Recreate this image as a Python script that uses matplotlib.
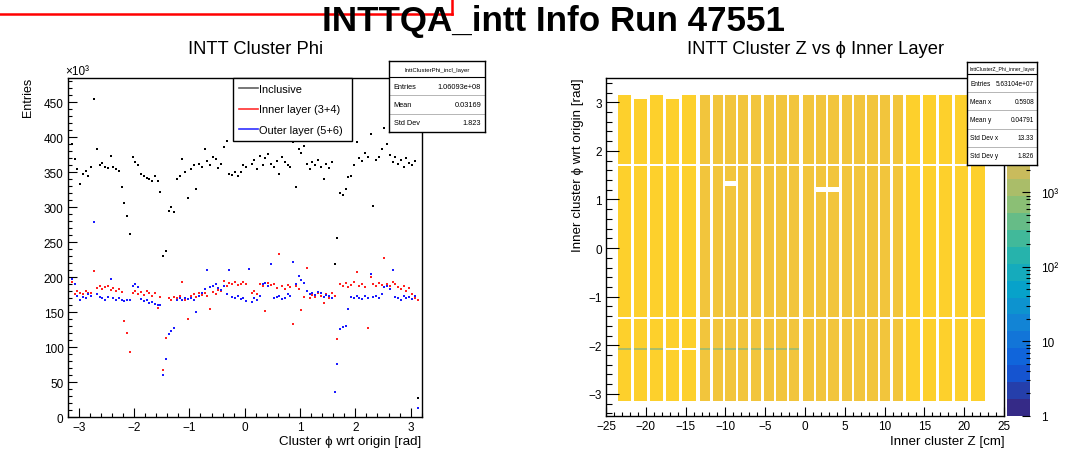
import matplotlib
matplotlib.use('Agg')
import matplotlib.pyplot as plt
import numpy as np
from matplotlib.colors import LinearSegmentedColormap, LogNorm
from matplotlib.lines import Line2D
from matplotlib.ticker import MultipleLocator, FixedLocator, NullFormatter

plt.rcParams['font.family'] = ['Liberation Sans', 'DejaVu Sans']

# ---- left panel: cluster phi, entries in units of 10^3 per bin ----
inclusive_k = [
    390, 369, 355, 333, 348, 352, 345, 358, 455, 383,
    360, 364, 358, 356, 374, 358, 355, 352, 329, 306,
    288, 262, 372, 365, 360, 348, 345, 342, 340, 338,
    345, 338, 322, 231, 237, 295, 300, 293, 340, 345,
    369, 350, 314, 355, 360, 326, 362, 358, 383, 366,
    360, 372, 369, 356, 362, 386, 395, 348, 346, 350,
    345, 350, 360, 358, 400, 362, 368, 355, 373, 360,
    370, 376, 362, 358, 366, 348, 372, 365, 360, 358,
    393, 329, 383, 378, 388, 362, 355, 365, 360, 368,
    358, 340, 362, 356, 365, 219, 257, 321, 318, 326,
    343, 345, 360, 393, 370, 366, 378, 372, 405, 302,
    368, 372, 383, 414, 390, 375, 365, 372, 362, 368,
    358, 370, 364, 360, 366, 27,
]
inner_k = [
    193, 176, 180, 178, 176, 181, 178, 177, 209, 185,
    187, 183, 186, 188, 182, 185, 181, 184, 179, 138,
    120, 94, 178, 181, 176, 179, 175, 180, 177, 174,
    178, 156, 172, 67, 114, 170, 168, 172, 170, 174,
    194, 168, 141, 174, 176, 172, 178, 175, 177, 173,
    155, 179, 176, 182, 180, 195, 188, 192, 190, 194,
    189, 191, 193, 190, 212, 178, 180, 176, 190, 188,
    152, 192, 189, 191, 185, 233, 187, 184, 189, 186,
    133, 188, 183, 154, 172, 213, 170, 175, 172, 177,
    174, 164, 176, 171, 178, 173, 112, 190, 187, 192,
    186, 189, 193, 208, 188, 191, 186, 127, 200, 190,
    187, 192, 189, 228, 191, 188, 193, 190, 186, 183,
    188, 180, 185, 176, 170, 167,
]
outer_k = [
    198, 190, 174, 167, 172, 170, 176, 174, 279, 176,
    172, 170, 168, 172, 197, 171, 168, 170, 167, 166,
    168, 167, 188, 190, 186, 169, 166, 167, 164, 165,
    162, 161, 160, 60, 84, 119, 124, 127, 168, 170,
    167, 171, 169, 170, 168, 151, 174, 178, 184, 211,
    186, 188, 190, 185, 182, 187, 176, 211, 172, 170,
    173, 169, 171, 166, 212, 165, 170, 168, 174, 190,
    192, 188, 219, 170, 172, 174, 169, 171, 176, 173,
    222, 190, 202, 196, 192, 180, 176, 178, 175, 179,
    177, 172, 175, 173, 171, 36, 76, 126, 129, 131,
    155, 172, 170, 174, 171, 169, 173, 170, 205, 172,
    174, 170, 176, 186, 188, 184, 210, 172, 170, 168,
    173, 170, 172, 169, 174, 13,
]
series_labels = ['Inclusive', 'Inner layer (3+4)', 'Outer layer (5+6)']

# ---- right panel: inner layer z vs phi ----
strip_z_lo = [-23.5, -21.5, -19.5, -17.5, -15.5, -13.2, -11.6, -10.0, -8.4, -6.8,
              -5.2, -3.6, -2.0, -0.2, 1.36, 2.95, 4.6, 6.2, 7.8, 9.4,
              11.0, 12.75, 14.85, 16.85, 18.8, 20.8]
strip_z_hi = [-21.8, -19.83, -17.8, -15.8, -13.7, -11.9, -10.3, -8.7, -7.1, -5.5,
              -3.9, -2.24, -0.71, 1.1, 2.7, 4.3, 5.9, 7.55, 9.15, 10.7,
              12.25, 14.4, 16.5, 18.5, 20.5, 22.6]
strip_counts = [9600, 9300, 9500, 9200, 9400, 5400, 5600, 5500, 5300, 5500,
                5700, 5400, 5600, 5800, 5500, 5700, 5600, 5400, 5800, 5500,
                5700, 9300, 9800, 9400, 9500, 9200]
phi_edges = [-3.15, -2.10, -2.06, -1.45, -1.41, 1.15, 1.25, 1.27, 1.37, 1.68, 1.72, 3.07, 3.15]
# (phi_lo, strips, counts) ; nan = empty
all_strips = list(range(26))
special_rows = [
    (-2.10, [0, 1, 2, 5, 6, 7, 8, 9, 10, 11, 12], 900),
    (-2.10, [3, 4], np.nan),
    (-1.45, all_strips, np.nan),
    (1.15, [14, 15], np.nan),
    (1.27, [7], np.nan),
    (1.68, all_strips, np.nan),
    (3.07, [1, 3], np.nan),
]

left_stats = ('InttClusterPhi_incl_layer', [('Entries', '1.06093e+08'), ('Mean', '0.03169'), ('Std Dev', '1.823')])
right_stats = ('InttClusterZ_Phi_inner_layer', [('Entries', '5.63104e+07'), ('Mean x', '0.5908'), ('Mean y', '0.04791'),
                                                ('Std Dev x', '13.33'), ('Std Dev y', '1.826')])

W, H = 1088, 452
fig = plt.figure(figsize=(W / 100, H / 100), dpi=100)


def px_rect(x0, y0, x1, y1):
    return [x0 / W, 1 - y1 / H, (x1 - x0) / W, (y1 - y0) / H]


def root_ticks(ax, major_len, minor_len):
    ax.tick_params(which='both', direction='in', top=False, right=False,
                   labelsize=8.5, width=0.8, colors='black')
    ax.tick_params(which='major', length=major_len, pad=3)
    ax.tick_params(which='minor', length=minor_len)
    for s in ax.spines.values():
        s.set_linewidth(1.0)


# ---- left panel ----
ax1 = fig.add_axes(px_rect(67.7, 79, 421.7, 418.3))
phi_centers = np.linspace(-3.125, 3.125, len(inclusive_k))
ax1.plot(phi_centers, inclusive_k, 's', color='black', ms=1.8, mew=0)
ax1.plot(phi_centers, inner_k, 's', color='#ff2020', ms=1.8, mew=0)
ax1.plot(phi_centers, outer_k, 's', color='#1a1aff', ms=1.8, mew=0)
ax1.set_xlim(-3.2, 3.2)
ax1.set_ylim(0, 485)
ax1.xaxis.set_major_locator(MultipleLocator(1))
ax1.xaxis.set_minor_locator(MultipleLocator(0.2))
ax1.yaxis.set_major_locator(MultipleLocator(50))
ax1.yaxis.set_minor_locator(MultipleLocator(10))
root_ticks(ax1, 6.5, 3.2)

handles = [Line2D([], [], color='#606060', lw=1.2),
           Line2D([], [], color='#ff3030', lw=1.2),
           Line2D([], [], color='#3030ff', lw=1.2)]
leg = ax1.legend(handles, series_labels, loc='upper left', mode='expand',
                 bbox_to_anchor=(233 / W, 1 - 142 / H, 119 / W, 63 / H),
                 bbox_transform=fig.transFigure, fontsize=7.9, labelspacing=0.95,
                 handlelength=1.7, handletextpad=0.1, borderpad=0.55, borderaxespad=0,
                 fancybox=False, framealpha=1, edgecolor='black')
leg.get_frame().set_linewidth(1.0)

fig.text(256 / W, 1 - 50 / H, 'INTT Cluster Phi', ha='center', va='center', fontsize=13.2)
fig.text(28 / W, 1 - 78 / H, 'Entries', rotation=90, ha='center', va='top', fontsize=9)
fig.text(65 / W, 1 - 72 / H, '×10³', ha='left', va='center', fontsize=8.5)
fig.text(421 / W, 1 - 442 / H, 'Cluster ϕ wrt origin [rad]', ha='right', va='center', fontsize=9.6)

# ---- right panel ----
bird = LinearSegmentedColormap.from_list('bird', [
    (0.2082, 0.1664, 0.5293), (0.0592, 0.3599, 0.8684), (0.0780, 0.5041, 0.8385),
    (0.0232, 0.6419, 0.7914), (0.1802, 0.7178, 0.6425), (0.5301, 0.7492, 0.4662),
    (0.8186, 0.7328, 0.3499), (0.9956, 0.7862, 0.1968), (0.9764, 0.9832, 0.0539)], N=20)

z_edges = []
for lo, hi in zip(strip_z_lo, strip_z_hi):
    z_edges += [lo, hi]
counts = np.full((len(phi_edges) - 1, len(z_edges) - 1), np.nan)
for j, c in enumerate(strip_counts):
    counts[:, 2 * j] = c
for phi_lo, strips, val in special_rows:
    r = phi_edges.index(phi_lo)
    for j in strips:
        counts[r, 2 * j] = val

ax2 = fig.add_axes(px_rect(606, 79, 1004, 416.7))
mesh = ax2.pcolormesh(z_edges, phi_edges, np.ma.masked_invalid(counts), cmap=bird,
                      norm=LogNorm(vmin=1, vmax=3.4e4))
ax2.set_xlim(-25, 25)
ax2.set_ylim(-3.45, 3.5)
ax2.xaxis.set_major_locator(MultipleLocator(5))
ax2.xaxis.set_minor_locator(MultipleLocator(1))
ax2.yaxis.set_major_locator(MultipleLocator(1))
ax2.yaxis.set_minor_locator(MultipleLocator(0.2))
root_ticks(ax2, 6.5, 3.2)
ax2.tick_params(axis='y', which='major', length=9)
ax2.tick_params(axis='y', which='minor', length=4.5)

cax = fig.add_axes(px_rect(1007, 79, 1030, 416.7))
cb = fig.colorbar(mesh, cax=cax)
cb.outline.set_visible(False)
cb.set_ticks([1, 10, 100, 1000])
cb.set_ticklabels(['1', '10', '10²', '10³'])
cax.yaxis.set_minor_locator(FixedLocator([m * 10 ** d for d in range(5) for m in range(2, 10)]))
cax.yaxis.set_minor_formatter(NullFormatter())
cax.tick_params(which='both', direction='in', labelsize=8.5, width=0.8, pad=8)
cax.tick_params(which='major', length=6)
cax.tick_params(which='minor', length=3)

fig.text(816 / W, 1 - 50 / H, 'INTT Cluster Z vs ϕ Inner Layer', ha='center', va='center', fontsize=13.2)
fig.text(578 / W, 1 - 78 / H, 'Inner cluster ϕ wrt origin [rad]', rotation=90, ha='center', va='top', fontsize=9.6)
fig.text(1005 / W, 1 - 442 / H, 'Inner cluster Z [cm]', ha='right', va='center', fontsize=9.6)


# ---- stats boxes ----
def stats_box(rect, title, rows, title_px, fs):
    x0, y0, x1, y1 = rect
    sax = fig.add_axes(px_rect(x0, y0, x1, y1))
    sax.set_xticks([])
    sax.set_yticks([])
    sax.set_xlim(0, 1)
    sax.set_ylim(0, 1)
    for s in sax.spines.values():
        s.set_linewidth(1.0)
    t_frac = title_px / (y1 - y0)
    sax.text(0.5, 1 - t_frac / 2, title, ha='center', va='center', fontsize=fs - 1)
    sax.axhline(1 - t_frac, color='black', lw=0.8)
    row_h = (1 - t_frac) / len(rows)
    for i, (name, val) in enumerate(rows):
        yc = 1 - t_frac - (i + 0.5) * row_h
        sax.text(0.05, yc, name, ha='left', va='center', fontsize=fs)
        sax.text(0.96, yc, val, ha='right', va='center', fontsize=fs)
        if i > 0:
            sax.axhline(1 - t_frac - i * row_h, color='#aaaaaa', lw=0.6)


stats_box((389, 62, 485, 133), left_stats[0], left_stats[1], 16, 5.3)
stats_box((967, 63, 1037, 166), right_stats[0], right_stats[1], 12, 4.7)

# ---- canvas title and red marker ----
fig.text(553 / W, 1 - 21 / H, 'INTTQA_intt Info Run 47551', ha='center', va='center',
         fontsize=25.2, fontweight='bold')
fig.add_artist(Line2D([0, 452 / W], [1 - 15 / H, 1 - 15 / H], color='red', lw=1.8, transform=fig.transFigure))
fig.add_artist(Line2D([452 / W, 452 / W], [1 - 15 / H, 1], color='red', lw=1.8, transform=fig.transFigure))

fig.savefig('out.png', dpi=100, facecolor='white')
